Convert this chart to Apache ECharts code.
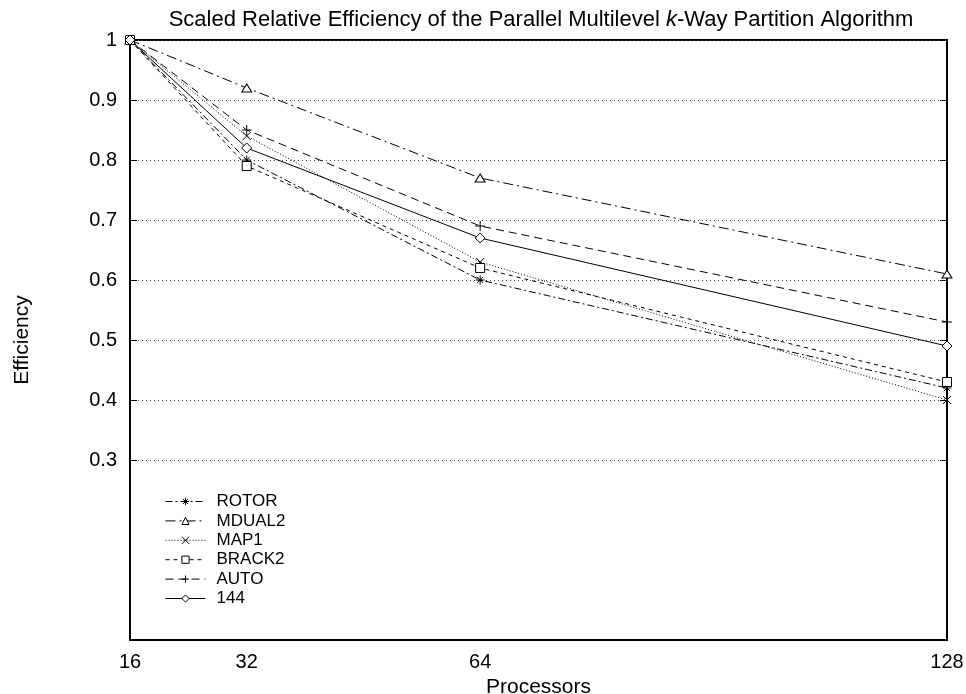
<!DOCTYPE html>
<html>
<head>
<meta charset="utf-8">
<script src="https://cdn.jsdelivr.net/npm/echarts@6/dist/echarts.min.js"></script>
<style>
    html, body { margin: 0; padding: 0; background: #fff; }
    #chartMain { width: 966px; height: 694px; }
</style>
</head>
<body>
<div id="chartMain"></div>
<script>
    // data
    var processors = [16, 32, 64, 128];
    var xTickLabels = [16, 32, 64, 128];
    var rotor  = [1.00, 0.80, 0.60, 0.42];
    var mdual2 = [1.00, 0.92, 0.77, 0.61];
    var map1   = [1.00, 0.84, 0.63, 0.40];
    var brack2 = [1.00, 0.79, 0.62, 0.43];
    var auto   = [1.00, 0.85, 0.69, 0.53];
    var s144   = [1.00, 0.82, 0.67, 0.49];

    var FONT = 'Liberation Sans, Arial, Helvetica, sans-serif';

    // gnuplot-like point glyphs
    var ASTERISK = 'path://M0,5L10,5M5,0L5,10M1.5,1.5L8.5,8.5M8.5,1.5L1.5,8.5';
    var CROSS = 'path://M0,0L10,10M10,0L0,10';
    var PLUS = 'path://M0,5L10,5M5,0L5,10';

    function pairs(ys) {
        return processors.map(function (x, i) { return [x, ys[i]]; });
    }

    function makeSeries(name, ys, symbol, size, dash) {
        return {
            name: name,
            type: 'line',
            xAxisIndex: 0,
            yAxisIndex: 0,
            data: pairs(ys),
            symbol: symbol,
            symbolSize: size,
            showAllSymbol: true,
            clip: false,
            z: 5,
            animation: false,
            lineStyle: { color: '#000', width: 1, type: dash },
            itemStyle: { color: '#fff', borderColor: '#000', borderWidth: 1 },
            emphasis: { disabled: true }
        };
    }

    var myChart = echarts.init(document.getElementById('chartMain'), null, { renderer: 'canvas' });

    myChart.setOption({
        backgroundColor: '#fff',
        animation: false,
        title: {
            text: '{a|Scaled Relative Efficiency of the Parallel Multilevel }{i|k}{a|-Way Partition Algorithm}',
            left: 536,
            textAlign: 'center',
            top: 4,
            textStyle: {
                rich: {
                    a: { fontFamily: FONT, fontSize: 22, fontWeight: 'normal', color: '#000' },
                    i: { fontFamily: FONT, fontSize: 22, fontWeight: 'normal', color: '#000', fontStyle: 'italic' }
                }
            }
        },
        legend: {
            orient: 'vertical',
            left: 160,
            top: 488,
            itemWidth: 40,
            itemHeight: 9,
            itemGap: 2.4,
            selectedMode: false,
            lineStyle: { width: 1 },
            itemStyle: { borderWidth: 1 },
            textStyle: { fontFamily: FONT, fontSize: 17, color: '#000', padding: [0, 0, 0, 6], lineHeight: 17 },
            data: ['ROTOR', 'MDUAL2', 'MAP1', 'BRACK2', 'AUTO', '144']
        },
        grid: [
            { left: 130, right: 19, top: 40, bottom: 54, outerBoundsMode: 'none', show: true, borderColor: '#000', borderWidth: 2, backgroundColor: 'transparent' },
            { left: 130, right: 19, top: 40, height: 420, outerBoundsMode: 'none', show: false }
        ],
        xAxis: [
            {
                type: 'value', gridIndex: 0, min: 16, max: 128, interval: 16,
                name: 'Processors', nameLocation: 'middle', nameGap: 20,
                nameTextStyle: { fontFamily: FONT, fontSize: 21, color: '#000' },
                axisLine: { show: false }, axisTick: { show: false }, splitLine: { show: false },
                axisLabel: {
                    margin: 12, fontFamily: FONT, fontSize: 20, color: '#000',
                    formatter: function (v) { return xTickLabels.indexOf(v) >= 0 ? String(v) : ''; }
                }
            },
            { type: 'value', gridIndex: 1, min: 16, max: 128, show: false }
        ],
        yAxis: [
            {
                type: 'value', gridIndex: 0, min: 0, max: 1,
                name: 'Efficiency', nameLocation: 'middle', nameGap: 97, nameRotate: 90,
                nameTextStyle: { fontFamily: FONT, fontSize: 21, color: '#000' },
                axisLine: { show: false }, axisTick: { show: false },
                axisLabel: { show: false }, splitLine: { show: false }
            },
            {
                type: 'value', gridIndex: 1, min: 0.3, max: 1, interval: 0.1, position: 'left',
                axisLine: { show: false },
                axisTick: { show: true, inside: true, length: 7, lineStyle: { color: '#000', width: 1 } },
                axisLabel: {
                    margin: 13, fontFamily: FONT, fontSize: 20, color: '#000',
                    formatter: function (v) { return String(+v.toFixed(1)); }
                },
                splitLine: { show: true, lineStyle: { color: '#444', width: 1, type: [1, 3] } }
            },
            {
                type: 'value', gridIndex: 1, min: 0.3, max: 1, interval: 0.1, position: 'right',
                axisLine: { show: false },
                axisTick: { show: true, inside: true, length: 7, lineStyle: { color: '#000', width: 1 } },
                axisLabel: { show: false }, splitLine: { show: false }
            }
        ],
        series: [
            makeSeries('ROTOR', rotor, ASTERISK, 9, [7, 3, 2, 3]),
            makeSeries('MDUAL2', mdual2, 'triangle', [10, 8], [10, 4, 2, 4]),
            makeSeries('MAP1', map1, CROSS, 8, [1, 2]),
            makeSeries('BRACK2', brack2, 'rect', 9, [4, 4]),
            makeSeries('AUTO', auto, PLUS, 10, [8, 5]),
            makeSeries('144', s144, 'diamond', [10, 10], 'solid')
        ]
    });
</script>
</body>
</html>
